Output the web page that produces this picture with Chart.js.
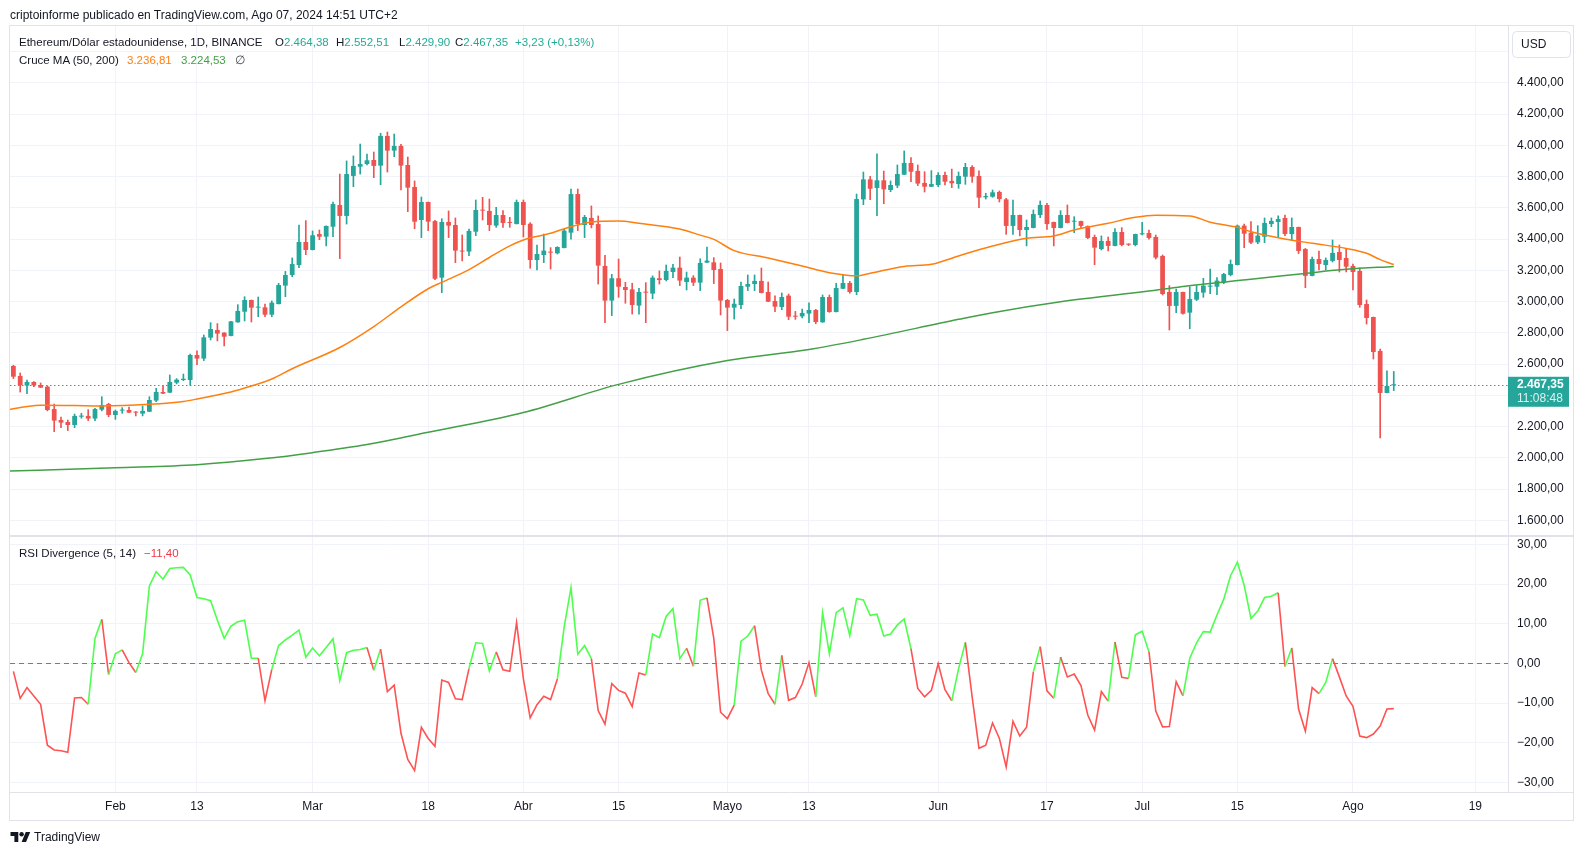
<!DOCTYPE html>
<html>
<head>
<meta charset="utf-8">
<script src="https://cdn.jsdelivr.net/npm/chart.js@4.4.1/dist/chart.umd.min.js"></script>
<style>
  body { margin: 0; width: 1584px; height: 855px; background: #fff; overflow: hidden; position: relative;
         font-family: "Liberation Sans", Arial, sans-serif; color: #131722; }
  #c { position: absolute; left: 0; top: 0; }
  .t { position: absolute; white-space: nowrap; font-size: 11.5px; line-height: 14px; }
  .teal { color: #22ab94; }
</style>
</head>
<body>
<canvas id="c" width="1584" height="855"></canvas>

<div class="t" style="left:10px;top:8px;font-size:12px">criptoinforme publicado en TradingView.com, Ago 07, 2024 14:51 UTC+2</div>

<div class="t" style="left:19px;top:35px">Ethereum/Dólar estadounidense, 1D, BINANCE</div>
<div class="t" style="left:275px;top:35px">O<span class="teal">2.464,38</span></div>
<div class="t" style="left:336px;top:35px">H<span class="teal">2.552,51</span></div>
<div class="t" style="left:399px;top:35px">L<span class="teal">2.429,90</span></div>
<div class="t" style="left:455px;top:35px">C<span class="teal">2.467,35</span></div>
<div class="t teal" style="left:515px;top:35px">+3,23 (+0,13%)</div>

<div class="t" style="left:19px;top:53px">Cruce MA (50, 200)</div>
<div class="t" style="left:127px;top:53px;color:#ff7f0e">3.236,81</div>
<div class="t" style="left:181px;top:53px;color:#43a047">3.224,53</div>
<div class="t" style="left:235px;top:53px;color:#434651">∅</div>

<div class="t" style="left:19px;top:546px">RSI Divergence (5, 14)</div>
<div class="t" style="left:144px;top:546px;color:#f23645">−11,40</div>

<svg style="position:absolute;left:10px;top:832px" width="21" height="10" viewBox="0 0 36 18">
  <path d="M14 18H7V7H0V0h14v18zM28 18h-8l7.5-18h8L28 18z" fill="#131722"/>
  <circle cx="20" cy="4" r="4" fill="#131722"/>
</svg>
<div class="t" style="left:34px;top:830px;font-size:12px">TradingView</div>

<script>
// days counted from 1 Feb 2024; first candle is 17 Jan
const firstDay = -15;

const opens = [
  2588, 2524, 2462, 2485, 2466, 2455, 2312, 2242, 2229, 2210,
  2263, 2268, 2251, 2308, 2344, 2274, 2302, 2306, 2295, 2283,
  2295, 2366, 2421, 2417, 2481, 2498, 2498, 2658, 2635, 2769,
  2818, 2801, 2780, 2867, 2935, 3010, 2961, 2963, 2916, 2984,
  3102, 3170, 3234, 3381, 3330, 3432, 3415, 3479, 3618, 3548,
  3804, 3863, 3880, 3906, 3870, 4060, 3966, 3996, 3874, 3733,
  3522, 3637, 3515, 3153, 3509, 3490, 3326, 3320, 3447, 3586,
  3580, 3486, 3554, 3509, 3496, 3637, 3498, 3266, 3298, 3317,
  3309, 3343, 3441, 3688, 3490, 3535, 3496, 3228, 3006, 3149,
  3093, 3078, 2974, 3061, 3051, 3149, 3138, 3189, 3217, 3125,
  3153, 3121, 3249, 3251, 3208, 3010, 2961, 2978, 3095, 3112,
  3132, 3061, 3003, 2965, 3038, 2907, 2905, 2923, 2946, 2867,
  3029, 2933, 3082, 3119, 3061, 3654, 3782, 3727, 3776, 3714,
  3742, 3812, 3887, 3836, 3759, 3735, 3746, 3810, 3772, 3752,
  3799, 3861, 3804, 3667, 3671, 3701, 3654, 3484, 3554, 3458,
  3471, 3554, 3618, 3509, 3471, 3554, 3511, 3515, 3484, 3413,
  3336, 3388, 3356, 3445, 3368, 3362, 3430, 3439, 3413, 3292,
  3061, 2972, 3061, 2929, 3012, 3057, 3095, 3095, 3121, 3170,
  3234, 3486, 3441, 3379, 3415, 3496, 3509, 3535, 3432, 3477,
  3336, 3164, 3272, 3234, 3260, 3317, 3279, 3228, 3196, 2984,
  2901, 2684, 2415, 2464.38
];
const highs = [
  2592, 2543, 2498, 2488, 2479, 2460, 2344, 2261, 2242, 2280,
  2285, 2308, 2317, 2391, 2349, 2306, 2321, 2325, 2296, 2332,
  2391, 2445, 2464, 2530, 2507, 2536, 2664, 2684, 2786, 2865,
  2859, 2801, 2873, 2980, 3031, 3010, 3029, 2984, 3004, 3117,
  3193, 3279, 3490, 3518, 3452, 3458, 3484, 3637, 3816, 3900,
  3932, 4008, 3944, 3957, 4077, 4085, 4072, 4006, 3925, 3772,
  3669, 3637, 3520, 3530, 3580, 3535, 3426, 3464, 3650, 3667,
  3656, 3603, 3582, 3539, 3650, 3650, 3505, 3362, 3432, 3345,
  3351, 3464, 3720, 3720, 3552, 3612, 3548, 3296, 3174, 3272,
  3123, 3117, 3085, 3121, 3164, 3196, 3234, 3238, 3285, 3189,
  3166, 3274, 3349, 3281, 3247, 3014, 3016, 3125, 3170, 3170,
  3215, 3125, 3036, 3055, 3048, 2937, 2952, 2991, 2950, 3042,
  3042, 3117, 3174, 3129, 3688, 3829, 3801, 3946, 3835, 3772,
  3874, 3964, 3921, 3874, 3831, 3838, 3825, 3829, 3848, 3829,
  3885, 3870, 3836, 3693, 3714, 3708, 3661, 3650, 3554, 3522,
  3586, 3644, 3629, 3509, 3582, 3618, 3543, 3515, 3484, 3426,
  3420, 3413, 3467, 3473, 3370, 3432, 3507, 3458, 3426, 3298,
  3102, 3080, 3061, 3095, 3102, 3149, 3208, 3153, 3181, 3266,
  3490, 3496, 3511, 3486, 3535, 3535, 3548, 3554, 3535, 3477,
  3340, 3285, 3323, 3279, 3394, 3362, 3336, 3240, 3215, 3010,
  2901, 2696, 2556, 2552.51
];
const lows = [
  2507, 2421, 2411, 2455, 2449, 2300, 2167, 2193, 2174, 2193,
  2253, 2238, 2238, 2300, 2263, 2246, 2285, 2289, 2268, 2268,
  2295, 2359, 2411, 2417, 2473, 2494, 2464, 2596, 2622, 2754,
  2748, 2716, 2780, 2867, 2876, 2869, 2903, 2903, 2903, 2984,
  3031, 3159, 3217, 3300, 3330, 3396, 3356, 3415, 3275, 3496,
  3735, 3816, 3874, 3793, 3748, 3829, 3927, 3714, 3575, 3466,
  3409, 3454, 3140, 3057, 3409, 3249, 3260, 3294, 3422, 3522,
  3454, 3475, 3475, 3475, 3496, 3413, 3213, 3202, 3249, 3208,
  3304, 3343, 3400, 3454, 3409, 3471, 3112, 2865, 2910, 3027,
  2989, 2920, 2920, 2865, 3018, 3112, 3132, 3153, 3102, 3074,
  3102, 3070, 3249, 3115, 2914, 2814, 2888, 2954, 3070, 3070,
  3055, 2999, 2935, 2948, 2884, 2886, 2895, 2865, 2858, 2867,
  2931, 2933, 3082, 3053, 3044, 3620, 3652, 3550, 3626, 3703,
  3729, 3812, 3767, 3742, 3701, 3735, 3735, 3746, 3729, 3725,
  3750, 3763, 3601, 3656, 3667, 3637, 3430, 3430, 3420, 3356,
  3471, 3537, 3462, 3356, 3471, 3503, 3441, 3471, 3402, 3236,
  3330, 3324, 3356, 3356, 3358, 3356, 3426, 3400, 3272, 3042,
  2818, 2929, 2920, 2826, 3006, 3027, 3050, 3044, 3114, 3164,
  3234, 3345, 3370, 3370, 3377, 3479, 3409, 3422, 3390, 3307,
  3089, 3164, 3202, 3202, 3253, 3189, 3189, 3074, 2963, 2856,
  2632, 2127, 2415, 2429.90
];
const closes = [
  2519, 2464, 2485, 2464, 2449, 2306, 2238, 2225, 2210, 2268,
  2270, 2251, 2312, 2338, 2274, 2300, 2308, 2289, 2289, 2300,
  2370, 2421, 2411, 2485, 2500, 2506, 2658, 2635, 2771, 2824,
  2795, 2775, 2873, 2940, 3010, 2961, 2967, 2916, 2993, 3106,
  3170, 3240, 3381, 3330, 3424, 3415, 3484, 3624, 3548, 3816,
  3868, 3880, 3904, 3868, 4060, 3966, 3996, 3870, 3729, 3511,
  3637, 3511, 3146, 3509, 3486, 3326, 3320, 3452, 3586, 3582,
  3490, 3554, 3503, 3503, 3637, 3490, 3266, 3304, 3326, 3313,
  3349, 3454, 3688, 3496, 3541, 3490, 3230, 3006, 3149, 3095,
  3074, 2978, 3061, 3057, 3153, 3138, 3196, 3217, 3134, 3153,
  3121, 3247, 3262, 3202, 3006, 2961, 2986, 3100, 3112, 3132,
  3055, 2999, 2967, 3029, 2903, 2903, 2927, 2946, 2869, 3029,
  2933, 3087, 3119, 3061, 3656, 3782, 3722, 3776, 3718, 3746,
  3816, 3887, 3831, 3755, 3735, 3752, 3810, 3767, 3757, 3804,
  3861, 3799, 3665, 3675, 3699, 3656, 3484, 3554, 3458, 3477,
  3560, 3618, 3496, 3471, 3554, 3503, 3515, 3484, 3407, 3345,
  3388, 3356, 3445, 3362, 3364, 3432, 3437, 3407, 3281, 3048,
  2972, 3061, 2922, 3016, 3061, 3102, 3102, 3134, 3176, 3240,
  3486, 3434, 3377, 3422, 3503, 3516, 3528, 3432, 3477, 3324,
  3164, 3272, 3240, 3266, 3311, 3266, 3223, 3189, 2978, 2895,
  2677, 2415, 2460, 2467.35
];

// moving averages at these days
const ma50Days = [-17, -11, -6, -2, 5, 10, 12, 14, 17, 20, 23, 26, 33, 38, 42, 46, 48, 52, 55, 58, 60, 64, 67, 70, 74,
  77, 83, 86, 88, 91, 96, 101, 105, 109, 111, 116, 120, 124, 129, 134, 138, 141, 146, 150, 153, 158, 161, 165, 167,
  171, 176, 181, 184, 186, 188];
const ma50 = [2298, 2336, 2334, 2332, 2343, 2361, 2376, 2394, 2421, 2459, 2504, 2570, 2706, 2840, 2966, 3082, 3123,
  3204, 3282, 3356, 3394, 3437, 3479, 3509, 3515, 3501, 3464, 3425, 3398, 3326, 3279, 3228, 3185, 3165, 3181, 3225,
  3238, 3292, 3355, 3405, 3420, 3458, 3501, 3539, 3552, 3548, 3508, 3475, 3447, 3409, 3373, 3340, 3309, 3268, 3236.81];
const ma200Days = [-17, 0, 12, 22, 29, 37, 46, 60, 74, 90, 102, 110, 124, 129, 139, 154, 157, 167, 176, 181, 188];
const ma200 = [1913, 1937, 1956, 1995, 2033, 2085, 2163, 2290, 2470, 2622, 2693, 2758, 2886, 2929, 2999, 3078, 3097,
  3142, 3185, 3206, 3224.53];

const rsi = [
  -2, -8.8, -6.1, -8.2, -10.3, -20.6, -21.8, -22.0, -22.4, -8.7,
  -8.6, -10.3, 6.3, 11.1, -2.8, 2.4, 3.4, 0.2, -2.3, 2.4,
  19.5, 23.1, 21.2, 23.9, 24.1, 24.2, 22.3, 16.6, 16.3, 15.8,
  10.9, 6.3, 9.4, 10.5, 10.9, 1.3, 1.3, -9.4, -1.5, 4.5,
  5.9, 7.1, 8.4, 1.6, 3.9, 1.9, 4.0, 6.2, -4.3, 2.7,
  3.3, 3.5, 4.0, -1.7, 3.6, -7.1, -5.5, -17.6, -24.2, -27.0,
  -16.1, -18.9, -20.9, -4.2, -4.8, -8.9, -9.1, -1.3, 5.2, 5.0,
  -1.9, 2.9, -1.6, -2.0, 10.3, -3.9, -13.7, -10.4, -8.3, -9.1,
  -3.9, 9.2, 19.1, 2.3, 4.5, 1.2, -11.9, -15.3, -5.1, -6.8,
  -7.5, -10.9, -2.4, -2.9, 7.4, 6.5, 11.9, 13.8, 1.2, 3.8,
  -0.7, 15.9, 16.5, 6.3, -12.3, -13.9, -10.5, 5.6, 6.9, 9.5,
  -1.7, -7.6, -10.3, 2.0, -9.3, -8.6, -5.2, 0.2, -8.4, 12.8,
  2.4, 12.8, 14.0, 7.0, 16.3, 16.0, 12.1, 12.4, 6.9, 7.4,
  9.7, 11.2, 3.7, -6.3, -8.4, -6.8, -0.1, -6.6, -9.4, -1.3,
  5.3, -8.5, -21.4, -20.6, -15.0, -18.9, -26.1, -14.6, -18.3, -16.1,
  -2.1, 4.2, -6.9, -8.8, 1.6, -3.4, -2.7, -5.6, -13.0, -16.8,
  -7.1, -9.5, 5.4, -3.5, -3.8, 7.2, 8.1, 2.9, -12.0, -16.0,
  -15.9, -4.6, -8.2, 1.3, 5.2, 8.0, 7.9, 12.2, 16.2, 22.1,
  25.5, 19.7, 11.3, 13.2, 16.6, 16.9, 17.8, -0.8, 3.9, -11.5,
  -17.1, -6.1, -7.6, -4.8, 1.2, -3.4, -8.2, -10.8, -18.3, -18.7,
  -17.8, -15.8, -11.5, -11.4
];
// colour of the segment that ends on each day: g = green, r = red
const rsiSide = ('rrrrrrrrrr' + 'rrggrggrrg' + 'gggggggggg' + 'gggggggrrg' + 'gggggggggg' +
  'gggrgrrrrr' + 'rrrrrrrrgg' + 'ggrrrrrrrr' + 'rgggggrrrr' + 'rrrrgggggg' +
  'rggrrrrggg' + 'rrrgrrrrrg' + 'gggggggggg' + 'gggrrrrrrg' + 'grrrrrrrrr' +
  'rgrrgrrrrr' + 'rrgrrgggrr' + 'rrrggggggg' + 'gggggggrgr' + 'rrrggrrrrr' + 'rrrr').split('');

const tickDays = [0, 12, 29, 46, 60, 74, 90, 102, 121, 137, 151, 165, 182, 200];
const tickLabels = ['Feb', '13', 'Mar', '18', 'Abr', '15', 'Mayo', '13', 'Jun', '17', 'Jul', '15', 'Ago', '19'];
const priceTicks = [1600, 1800, 2000, 2200, 2400, 2600, 2800, 3000, 3200, 3400, 3600, 3800, 4000, 4200, 4400, 4600];
const rsiTicks = [-30, -20, -10, 0, 10, 20, 30];

const up = '#26a69a', down = '#ef5350';
const rsiUp = '#4eff4e', rsiDown = '#ff5252';
const gridCol = '#f0f3fa', sepCol = '#e0e3eb';

function fmt(v) {
  const [i, f] = Math.abs(v).toFixed(2).split('.');
  return (v < 0 ? '−' : '') + i.replace(/\B(?=(\d{3})+(?!\d))/g, '.') + ',' + f;
}

const days = opens.map((_, i) => i + firstDay);
const colours = closes.map((c, i) => c >= opens[i] ? up : down);
const lastPrice = closes[closes.length - 1];

const overlay = {
  id: 'overlay',
  beforeDatasetsDraw(chart) {
    const {ctx, chartArea: a, scales: {y, y2}} = chart;
    ctx.save();
    ctx.lineWidth = 1;
    ctx.strokeStyle = up;
    ctx.setLineDash([1.5, 2.5]);
    const py = Math.round(y.getPixelForValue(lastPrice)) + 0.5;
    ctx.beginPath(); ctx.moveTo(a.left, py); ctx.lineTo(a.right, py); ctx.stroke();
    ctx.strokeStyle = '#787b86';
    ctx.setLineDash([5, 4]);
    const zy = Math.round(y2.getPixelForValue(0)) + 0.5;
    ctx.beginPath(); ctx.moveTo(a.left, zy); ctx.lineTo(a.right, zy); ctx.stroke();
    ctx.restore();
  },
  afterDraw(chart) {
    const {ctx, chartArea: a, scales: {y}} = chart;
    const right = 1573;
    ctx.save();
    ctx.strokeStyle = sepCol;
    ctx.lineWidth = 1;
    ctx.beginPath();
    ctx.moveTo(a.right + 0.5, a.top); ctx.lineTo(a.right + 0.5, a.bottom);
    ctx.moveTo(a.left, a.bottom + 0.5); ctx.lineTo(right, a.bottom + 0.5);
    ctx.stroke();
    ctx.lineWidth = 2;
    ctx.beginPath();
    ctx.moveTo(a.left, y.bottom); ctx.lineTo(right, y.bottom);
    ctx.stroke();
    ctx.lineWidth = 1;
    ctx.strokeRect(9.5, 25.5, right - 9, 820 - 25);

    // currency box
    ctx.fillStyle = '#fff';
    ctx.beginPath();
    ctx.roundRect(a.right + 4.5, 31.5, 58, 26, 4);
    ctx.fill(); ctx.stroke();
    ctx.fillStyle = '#131722';
    ctx.font = '12px "Liberation Sans", Arial, sans-serif';
    ctx.textBaseline = 'middle';
    ctx.fillText('USD', a.right + 13, 44.5);

    // last price label
    const py = y.getPixelForValue(lastPrice);
    ctx.fillStyle = up;
    ctx.fillRect(a.right, py - 8, 61, 30);
    ctx.fillStyle = '#fff';
    ctx.font = 'bold 12px "Liberation Sans", Arial, sans-serif';
    ctx.fillText(fmt(lastPrice), a.right + 9, py);
    ctx.fillStyle = 'rgba(255,255,255,0.85)';
    ctx.font = '12px "Liberation Sans", Arial, sans-serif';
    ctx.fillText('11:08:48', a.right + 9, py + 14);
    ctx.restore();
  }
};

Chart.defaults.font.family = '"Liberation Sans", Arial, sans-serif';
Chart.defaults.font.size = 12;
Chart.defaults.color = '#131722';

new Chart(document.getElementById('c'), {
  type: 'bar',
  data: {
    datasets: [
      {
        label: 'wicks', yAxisID: 'y', order: 4, grouped: false,
        data: days.map((d, i) => ({x: d, y: [lows[i], highs[i]]})),
        backgroundColor: colours, barThickness: 1
      },
      {
        label: 'bodies', yAxisID: 'y', order: 3, grouped: false,
        data: days.map((d, i) => ({x: d, y: [opens[i], closes[i]]})),
        backgroundColor: colours, categoryPercentage: 1, barPercentage: 0.7, minBarLength: 1
      },
      {
        type: 'line', label: 'MA 50', yAxisID: 'y', order: 2,
        data: ma50Days.map((d, i) => ({x: d, y: ma50[i]})),
        borderColor: '#ff7f0e', borderWidth: 1.5, pointRadius: 0, cubicInterpolationMode: 'monotone'
      },
      {
        type: 'line', label: 'MA 200', yAxisID: 'y', order: 1,
        data: ma200Days.map((d, i) => ({x: d, y: ma200[i]})),
        borderColor: '#43a047', borderWidth: 1.5, pointRadius: 0, cubicInterpolationMode: 'monotone'
      },
      {
        type: 'line', label: 'RSI Divergence', yAxisID: 'y2', order: 0,
        data: days.map((d, i) => ({x: d, y: rsi[i]})),
        borderColor: rsiDown, borderWidth: 1.6, pointRadius: 0,
        segment: { borderColor: c => rsiSide[c.p1DataIndex] === 'g' ? rsiUp : rsiDown }
      }
    ]
  },
  options: {
    responsive: false,
    devicePixelRatio: 1,
    animation: false,
    events: [],
    layout: { padding: { left: 10, top: 26, right: 11, bottom: 35 } },
    plugins: { legend: { display: false }, tooltip: { enabled: false } },
    scales: {
      x: {
        type: 'linear', min: -15.5, max: 204.8, offset: false,
        grid: { color: gridCol, offset: false, drawTicks: false },
        border: { display: false },
        afterBuildTicks: s => { s.ticks = tickDays.map(v => ({value: v})); },
        afterFit: s => { s.height = 28; },
        ticks: { padding: 7, maxRotation: 0, autoSkip: false, callback: (v, i) => tickLabels[i] }
      },
      y: {
        type: 'linear', position: 'right', stack: 'panes', stackWeight: 510,
        min: 1499.5, max: 4763.5,
        grid: { color: gridCol, drawTicks: false },
        border: { display: false },
        afterBuildTicks: s => { s.ticks = priceTicks.map(v => ({value: v})); },
        afterFit: s => { s.width = 65; },
        ticks: { padding: 9, callback: v => v > 4400 ? '' : fmt(v) }
      },
      y2: {
        type: 'linear', position: 'right', stack: 'panes', stackWeight: 256,
        min: -32.4, max: 32.1,
        grid: { color: gridCol, drawTicks: false },
        border: { display: false },
        afterBuildTicks: s => { s.ticks = rsiTicks.map(v => ({value: v})); },
        afterFit: s => { s.width = 65; },
        ticks: { padding: 9, callback: v => fmt(v) }
      }
    }
  },
  plugins: [overlay]
});
</script>
</body>
</html>
